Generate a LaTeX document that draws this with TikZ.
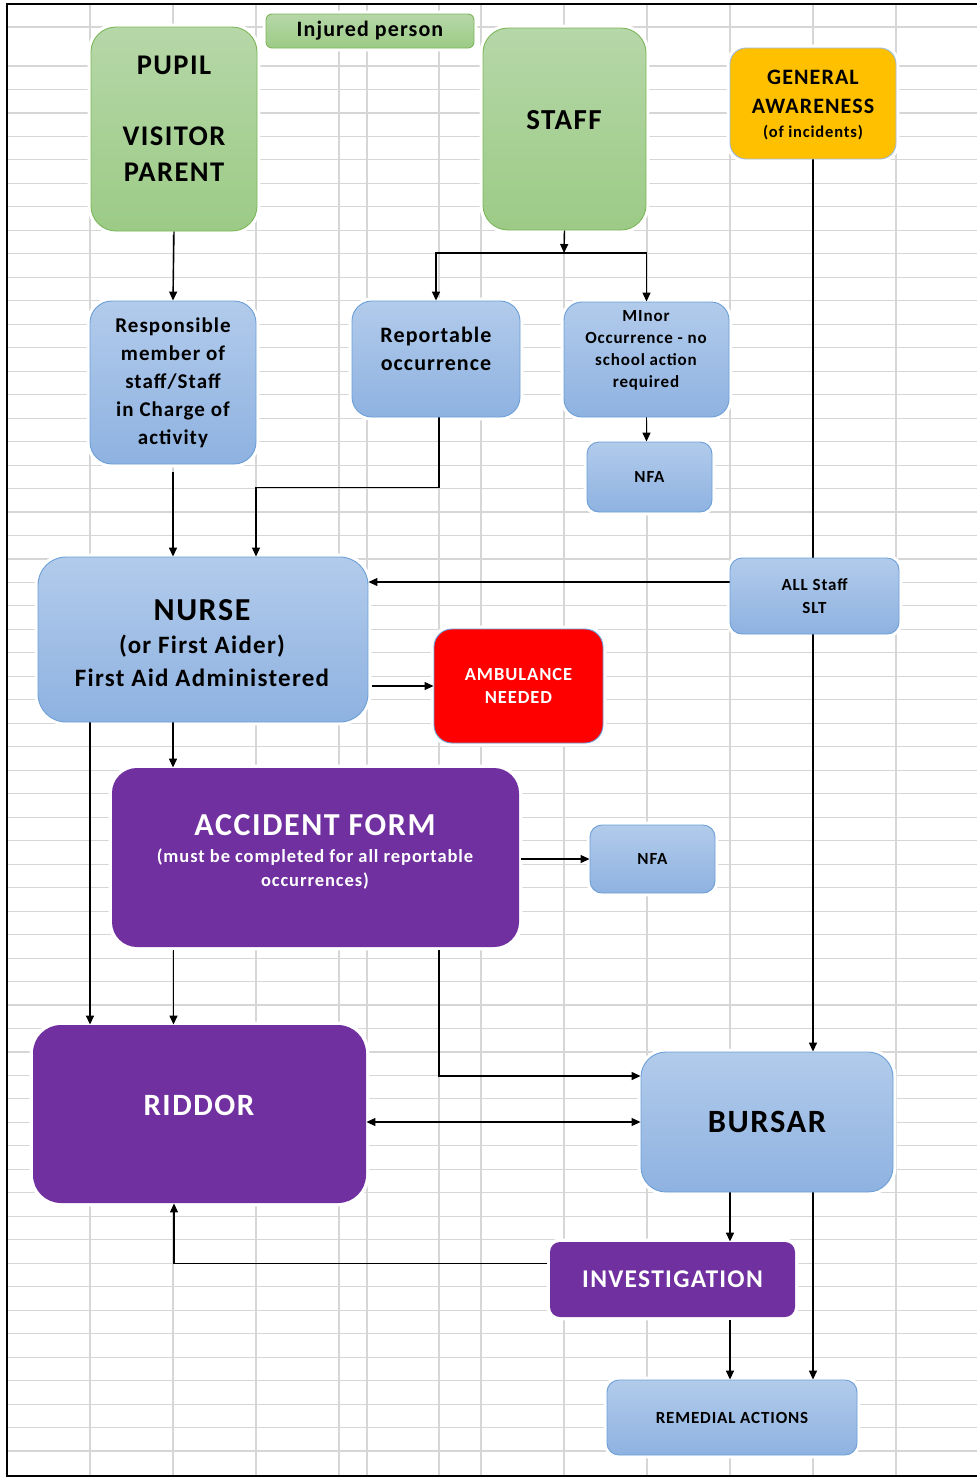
\documentclass[tikz,border=0pt]{standalone}
\usepackage{fontspec}
\setmainfont{Carlito}[LetterSpace=5]
\usetikzlibrary{arrows.meta,calc}
\pgfdeclarelayer{grid}\pgfdeclarelayer{halo}\pgfdeclarelayer{edges}
\pgfsetlayers{grid,halo,edges,main}
\definecolor{gridc}{HTML}{D6D6D6}
\definecolor{btop}{HTML}{B2CBEB}
\definecolor{bbot}{HTML}{8EB2E1}
\definecolor{bline}{HTML}{6C9FD6}
\definecolor{gtop}{HTML}{B6D7A8}
\definecolor{gbot}{HTML}{9CCB86}
\definecolor{gline}{HTML}{7DB65A}
\definecolor{purp}{HTML}{7030A0}
\definecolor{orng}{HTML}{FFC000}
\definecolor{oline}{HTML}{9DB9DF}
\definecolor{redc}{HTML}{FF0000}
\newcommand{\fsz}[2]{\fontsize{#1}{#2}\selectfont}
\begin{document}
\begin{tikzpicture}[x=1pt,y=-1pt,
  shapebox/.style={rounded corners=#1, inner sep=0pt, align=center, line width=0.9pt},
  bbox/.style={shapebox=#1, draw=bline, top color=btop, bottom color=bbot},
  gbox/.style={shapebox=#1, draw=gline, top color=gtop, bottom color=gbot},
  pbox/.style={shapebox=#1, fill=purp, text=white},
  txt/.style={inner sep=0pt, align=center},
  fs/.style 2 args={font=\bfseries\fsz{#1}{#2}},
  gridline/.style={gridc, line width=1.1pt},
  arr/.style={line width=1.4pt, -{Triangle[length=9pt,width=8pt]}},
  arrs/.style={line width=1.4pt, {Triangle[length=9pt,width=8pt]}-{Triangle[length=9pt,width=8pt]}},
  ln/.style={line width=1.4pt}]
\useasboundingbox (0,0) rectangle (977,1484);
% spreadsheet grid
\begin{pgfonlayer}{grid}
\fill[white] (0,0) rectangle (977,1484);
\foreach \x in {90,173,256,339,367,439,481,564,647,730,813,896}
  \draw[gridline] (\x,4) -- (\x,1476);
\draw[gridline] (7,27) -- (977,27);
\foreach \k in {0,...,59}
  \draw[gridline] (7,{66+23.475*\k}) -- (977,{66+23.475*\k});
\end{pgfonlayer}
\draw[line width=2.6pt] (977,4) -- (7,4) -- (7,1476) -- (977,1476);

% boxes
\node[gbox=6, minimum width=208, minimum height=34, fs={22}{26}] (injured) at (370,31) {Injured person};
\node[gbox=25, minimum width=166, minimum height=204] (pupil) at (174,129) {};
\node[txt, fs={28.5}{35.5}] (pupilt) at (174,119) {PUPIL\\[35.5pt]VISITOR\\PARENT};
\node[gbox=25, minimum width=163, minimum height=202] (staff) at (564.5,129) {};
\node[txt, fs={29}{35}] (stafft) at (564,120) {STAFF};
\node[shapebox=16, draw=oline, fill=orng, minimum width=166, minimum height=111] (gen) at (813,103.5) {};
\node[txt, fs={22}{29}] (gent) at (813,105) {GENERAL\\AWARENESS\\[-5pt]\fsz{16.5}{20}(of incidents)};
\node[bbox=22, minimum width=166, minimum height=163, fs={21}{28}] (resp) at (173,382.5) {Responsible\\member of\\staff/Staff\\in Charge of\\activity};
\node[bbox=20, minimum width=168, minimum height=116] (rep) at (436,359) {};
\node[txt, fs={22}{28}] (rept) at (436,349) {Reportable\\occurrence};
\node[bbox=18, minimum width=165, minimum height=115] (minor) at (646.5,359.5) {};
\node[txt, fs={17}{22}] (minort) at (646,350) {MInor\\Occurrence - no\\school action\\required};
\node[bbox=12, minimum width=125, minimum height=70, fs={17}{20}] (nfaa) at (649.5,477) {NFA};
\node[bbox=28, minimum width=330, minimum height=165] (nurse) at (203,639.5) {};
\node[txt, fs={25}{33}] (nurset) at (202,643) {\fsz{32}{34}NURSE\\(or First Aider)\\First Aid Administered};
\node[bbox=12, minimum width=169, minimum height=76, fs={17}{23}] (allstaff) at (814.5,596) {ALL Staff\\SLT};
\node[shapebox=18, draw=bline, fill=redc, text=white, minimum width=169, minimum height=114, fs={18.5}{23}] (amb) at (518.5,686) {AMBULANCE\\NEEDED};
\node[pbox=25, minimum width=407, minimum height=179] (acc) at (315.5,857.5) {};
\node[txt, text=white, fs={18.5}{24}] (acct) at (315,852) {\fsz{32}{32}ACCIDENT FORM\\[3pt](must be completed for all reportable\\occurrences)};
\node[bbox=12, minimum width=125, minimum height=68, fs={17}{20}] (nfab) at (652.5,859) {NFA};
\node[pbox=28, minimum width=333, minimum height=178] (riddor) at (199.5,1114) {};
\node[txt, text=white, fs={31}{35}] (riddort) at (199,1105) {RIDDOR};
\node[bbox=25, minimum width=252, minimum height=140, fs={32.5}{36}] (bursar) at (767,1122) {BURSAR};
\node[pbox=10, minimum width=245, minimum height=75, fs={25.5}{30}] (inv) at (672.5,1279.5) {INVESTIGATION};
\node[bbox=12, minimum width=250, minimum height=75, fs={17}{20}] (rem) at (732,1417.5) {REMEDIAL ACTIONS};

% white halos around the shapes
\begin{pgfonlayer}{halo}
\foreach \n/\r in {injured/6,pupil/25,staff/25,gen/16,resp/22,rep/20,minor/18,nfaa/12,nurse/28,allstaff/12,amb/18,acc/25,nfab/12,riddor/28,bursar/25,inv/10,rem/12}
  \draw[white, line width=6pt, rounded corners=\r] (\n.north west) rectangle (\n.south east);
\end{pgfonlayer}

% connectors
\begin{pgfonlayer}{edges}
\coordinate (j) at (564,253);
\draw[arr] (pupil.south) -- (resp.north);
\draw[arr] (staff.south) -- (j);
\draw[arr] (j) -| (rep.north);
\draw[arr] (j) -| (minor.north);
\draw[arr] (minor.south) -- (minor.south |- nfaa.north);
\draw[arr] ([yshift=-8pt]resp.south) -- (resp.south |- nurse.north);
\draw[arr, line width=1.1pt] ([xshift=3pt]rep.south) |- ($(nurse.north)+(53,-69)$) -- ($(nurse.north)+(53,0)$);
\draw[arr] (gen.south) -- (gen.south |- bursar.north);
\draw[arr, line width=1.1pt] ([yshift=14pt]allstaff.west) -- ([yshift=14pt]allstaff.west -| nurse.east);
\draw[arr, line width=1.1pt] ([xshift=4pt]nurse.east |- amb.west) -- (amb.west);
\draw[arr] ([xshift=-30pt]nurse.south) -- ([xshift=-30pt]nurse.south |- acc.north);
\draw[arr] ([xshift=-113pt]nurse.south) -- ([xshift=-113pt]nurse.south |- riddor.north);
\draw[arr, line width=1.1pt] ([xshift=2pt]acc.east |- nfab.west) -- (nfab.west);
\draw[arr] ([shift={(-142pt,-3pt)}]acc.south) -- ([xshift=-142pt]acc.south |- riddor.north);
\draw[arr] ([shift={(123.5pt,-3pt)}]acc.south) |- ([yshift=46pt]bursar.west);
\draw[arrs, line width=1.1pt] (riddor.east |- bursar.west) -- (bursar.west);
\draw[arr] ([xshift=-37pt]bursar.south) -- ([xshift=-37pt]bursar.south |- inv.north);
\draw[arr] ([xshift=46pt]bursar.south) -- ([xshift=46pt]bursar.south |- rem.north);
\draw[arr] ([shift={(57.5pt,-3pt)}]inv.south) -- ([xshift=57.5pt]inv.south |- rem.north);
\draw[arr, line width=1.1pt] ([shift={(-3pt,16pt)}]inv.west) -| ([xshift=-25.5pt]riddor.south);
\end{pgfonlayer}
\end{tikzpicture}
\end{document}
